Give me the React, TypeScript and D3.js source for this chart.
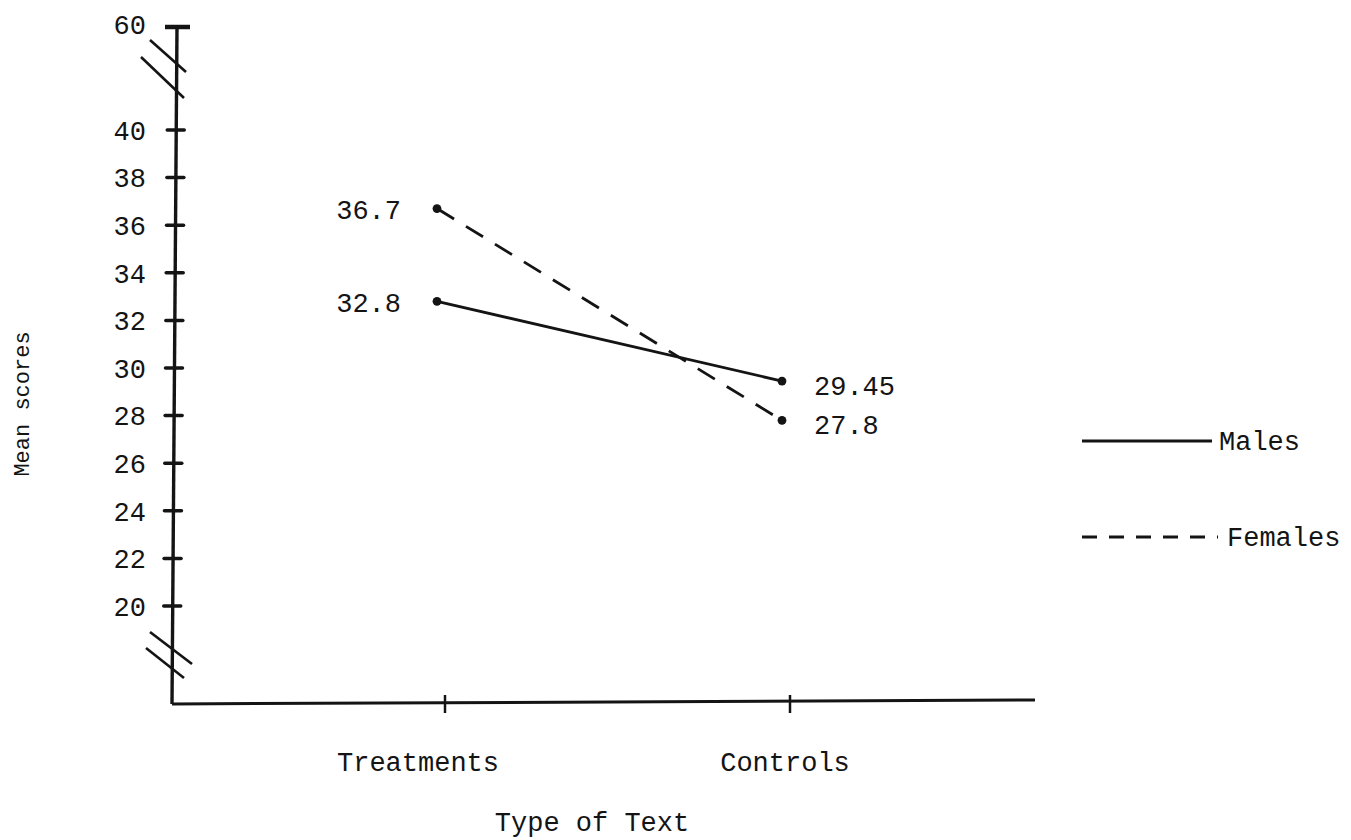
import React, { useEffect, useRef } from 'react';
import * as d3 from 'd3';

const categories = ['Treatments', 'Controls'];
const males = [32.8, 29.45];
const females = [36.7, 27.8];
const seriesNames = ['Males', 'Females'];
const yTicks = [20, 22, 24, 26, 28, 30, 32, 34, 36, 38, 40];
const breakTick = 60;

const W = 1351;
const H = 840;
const FONT = '"Courier New", "Liberation Mono", monospace';
const INK = '#141414';

export default function App() {
  const ref = useRef<SVGSVGElement>(null);

  useEffect(() => {
    const svg = d3.select(ref.current);
    svg.selectAll('*').remove();

    const y = d3.scaleLinear().domain([20, 40]).range([606, 130]);
    const x = d3.scalePoint<string>().domain(categories).range([445, 790]);

    const axisTop = 27;
    const axisBottom = 704;
    // typed axis leans slightly, top sits a bit right of the bottom
    const axisX = (py: number) => 177 - ((py - axisTop) * 5) / (axisBottom - axisTop);

    const g = svg.append('g');

    // y axis
    g.append('line')
      .attr('x1', axisX(axisTop)).attr('y1', axisTop)
      .attr('x2', axisX(axisBottom)).attr('y2', axisBottom)
      .attr('stroke', INK).attr('stroke-width', 3.4);

    // x axis
    g.append('line')
      .attr('x1', axisX(axisBottom)).attr('y1', axisBottom)
      .attr('x2', 1035).attr('y2', 700)
      .attr('stroke', INK).attr('stroke-width', 3);

    // y ticks
    g.selectAll('.ytick')
      .data(yTicks)
      .enter()
      .append('line')
      .attr('class', 'ytick')
      .attr('x1', d => axisX(y(d)) - 9)
      .attr('x2', d => axisX(y(d)) + 8)
      .attr('y1', d => y(d))
      .attr('y2', d => y(d))
      .attr('stroke', INK).attr('stroke-width', 3.5)
      .attr('stroke-linecap', 'round');

    g.selectAll('.ylabel')
      .data(yTicks)
      .enter()
      .append('text')
      .attr('class', 'ylabel')
      .attr('x', 146)
      .attr('y', d => y(d))
      .attr('dy', '0.36em')
      .attr('text-anchor', 'end')
      .attr('font-family', FONT)
      .attr('font-size', 27)
      .attr('fill', INK)
      .text(d => d);

    // 60 at the top, past the break
    g.append('line')
      .attr('x1', axisX(axisTop) - 12).attr('x2', axisX(axisTop) + 13)
      .attr('y1', axisTop).attr('y2', axisTop)
      .attr('stroke', INK).attr('stroke-width', 4.5);
    g.append('text')
      .attr('x', 146).attr('y', axisTop - 3)
      .attr('dy', '0.36em')
      .attr('text-anchor', 'end')
      .attr('font-family', FONT).attr('font-size', 27).attr('fill', INK)
      .text(breakTick);

    // break marks
    const breaks = [
      [[150, 40], [186, 72]],
      [[141, 57], [184, 98]],
      [[150, 632], [192, 664]],
      [[146, 648], [184, 678]],
    ];
    g.selectAll('.brk')
      .data(breaks)
      .enter()
      .append('line')
      .attr('class', 'brk')
      .attr('x1', d => d[0][0]).attr('y1', d => d[0][1])
      .attr('x2', d => d[1][0]).attr('y2', d => d[1][1])
      .attr('stroke', INK).attr('stroke-width', 2.6);

    // x ticks + category labels
    g.selectAll('.xtick')
      .data(categories)
      .enter()
      .append('line')
      .attr('class', 'xtick')
      .attr('x1', d => x(d)!).attr('x2', d => x(d)!)
      .attr('y1', 695).attr('y2', 713)
      .attr('stroke', INK).attr('stroke-width', 2.5);

    g.selectAll('.xlabel')
      .data(categories)
      .enter()
      .append('text')
      .attr('class', 'xlabel')
      .attr('x', (d, i) => x(d)! + (i === 0 ? -27 : -5))
      .attr('y', 771)
      .attr('text-anchor', 'middle')
      .attr('font-family', FONT).attr('font-size', 27).attr('fill', INK)
      .text(d => d);

    g.append('text')
      .attr('x', 592).attr('y', 831)
      .attr('text-anchor', 'middle')
      .attr('font-family', FONT).attr('font-size', 27).attr('fill', INK)
      .text('Type of Text');

    g.append('text')
      .attr('transform', 'translate(29,404) rotate(-90)')
      .attr('text-anchor', 'middle')
      .attr('font-family', FONT).attr('font-size', 22).attr('fill', INK)
      .text('Mean scores');

    // series
    const line = d3.line<number>()
      .x((d, i) => x(categories[i])! - 8)
      .y(d => y(d));

    const series = [
      { name: seriesNames[0], values: males, dash: null },
      { name: seriesNames[1], values: females, dash: '20,14' },
    ];

    series.forEach(s => {
      g.append('path')
        .attr('d', line(s.values))
        .attr('fill', 'none')
        .attr('stroke', INK)
        .attr('stroke-width', 2.8)
        .attr('stroke-dasharray', s.dash);

      g.selectAll(null)
        .data(s.values)
        .enter()
        .append('circle')
        .attr('cx', (d, i) => x(categories[i])! - 8)
        .attr('cy', d => y(d))
        .attr('r', 4.4)
        .attr('fill', INK);

      g.selectAll(null)
        .data(s.values)
        .enter()
        .append('text')
        .attr('x', (d, i) => (i === 0 ? x(categories[i])! - 44 : x(categories[i])! + 24))
        .attr('y', d => y(d))
        .attr('dy', (d, i) => (i === 0 ? '0.4em' : '0.5em'))
        .attr('text-anchor', (d, i) => (i === 0 ? 'end' : 'start'))
        .attr('font-family', FONT).attr('font-size', 27).attr('fill', INK)
        .text(d => String(d));
    });

    // legend
    const legendY = d3.scalePoint<string>().domain(seriesNames).range([441, 537]);
    g.selectAll('.legline')
      .data(series)
      .enter()
      .append('line')
      .attr('class', 'legline')
      .attr('x1', 1082)
      .attr('x2', d => (d.dash ? 1218 : 1212))
      .attr('y1', d => legendY(d.name)!)
      .attr('y2', d => legendY(d.name)!)
      .attr('stroke', INK).attr('stroke-width', 3)
      .attr('stroke-dasharray', d => (d.dash ? '15,12' : null));

    g.selectAll('.legtext')
      .data(series)
      .enter()
      .append('text')
      .attr('class', 'legtext')
      .attr('x', d => (d.dash ? 1227 : 1219))
      .attr('y', d => legendY(d.name)!)
      .attr('dy', '0.33em')
      .attr('font-family', FONT).attr('font-size', 27).attr('fill', INK)
      .text(d => d.name);
  }, []);

  return (
    <svg
      ref={ref}
      width={W}
      height={H}
      style={{ position: 'absolute', left: 0, top: 0, background: '#fff' }}
    />
  );
}
